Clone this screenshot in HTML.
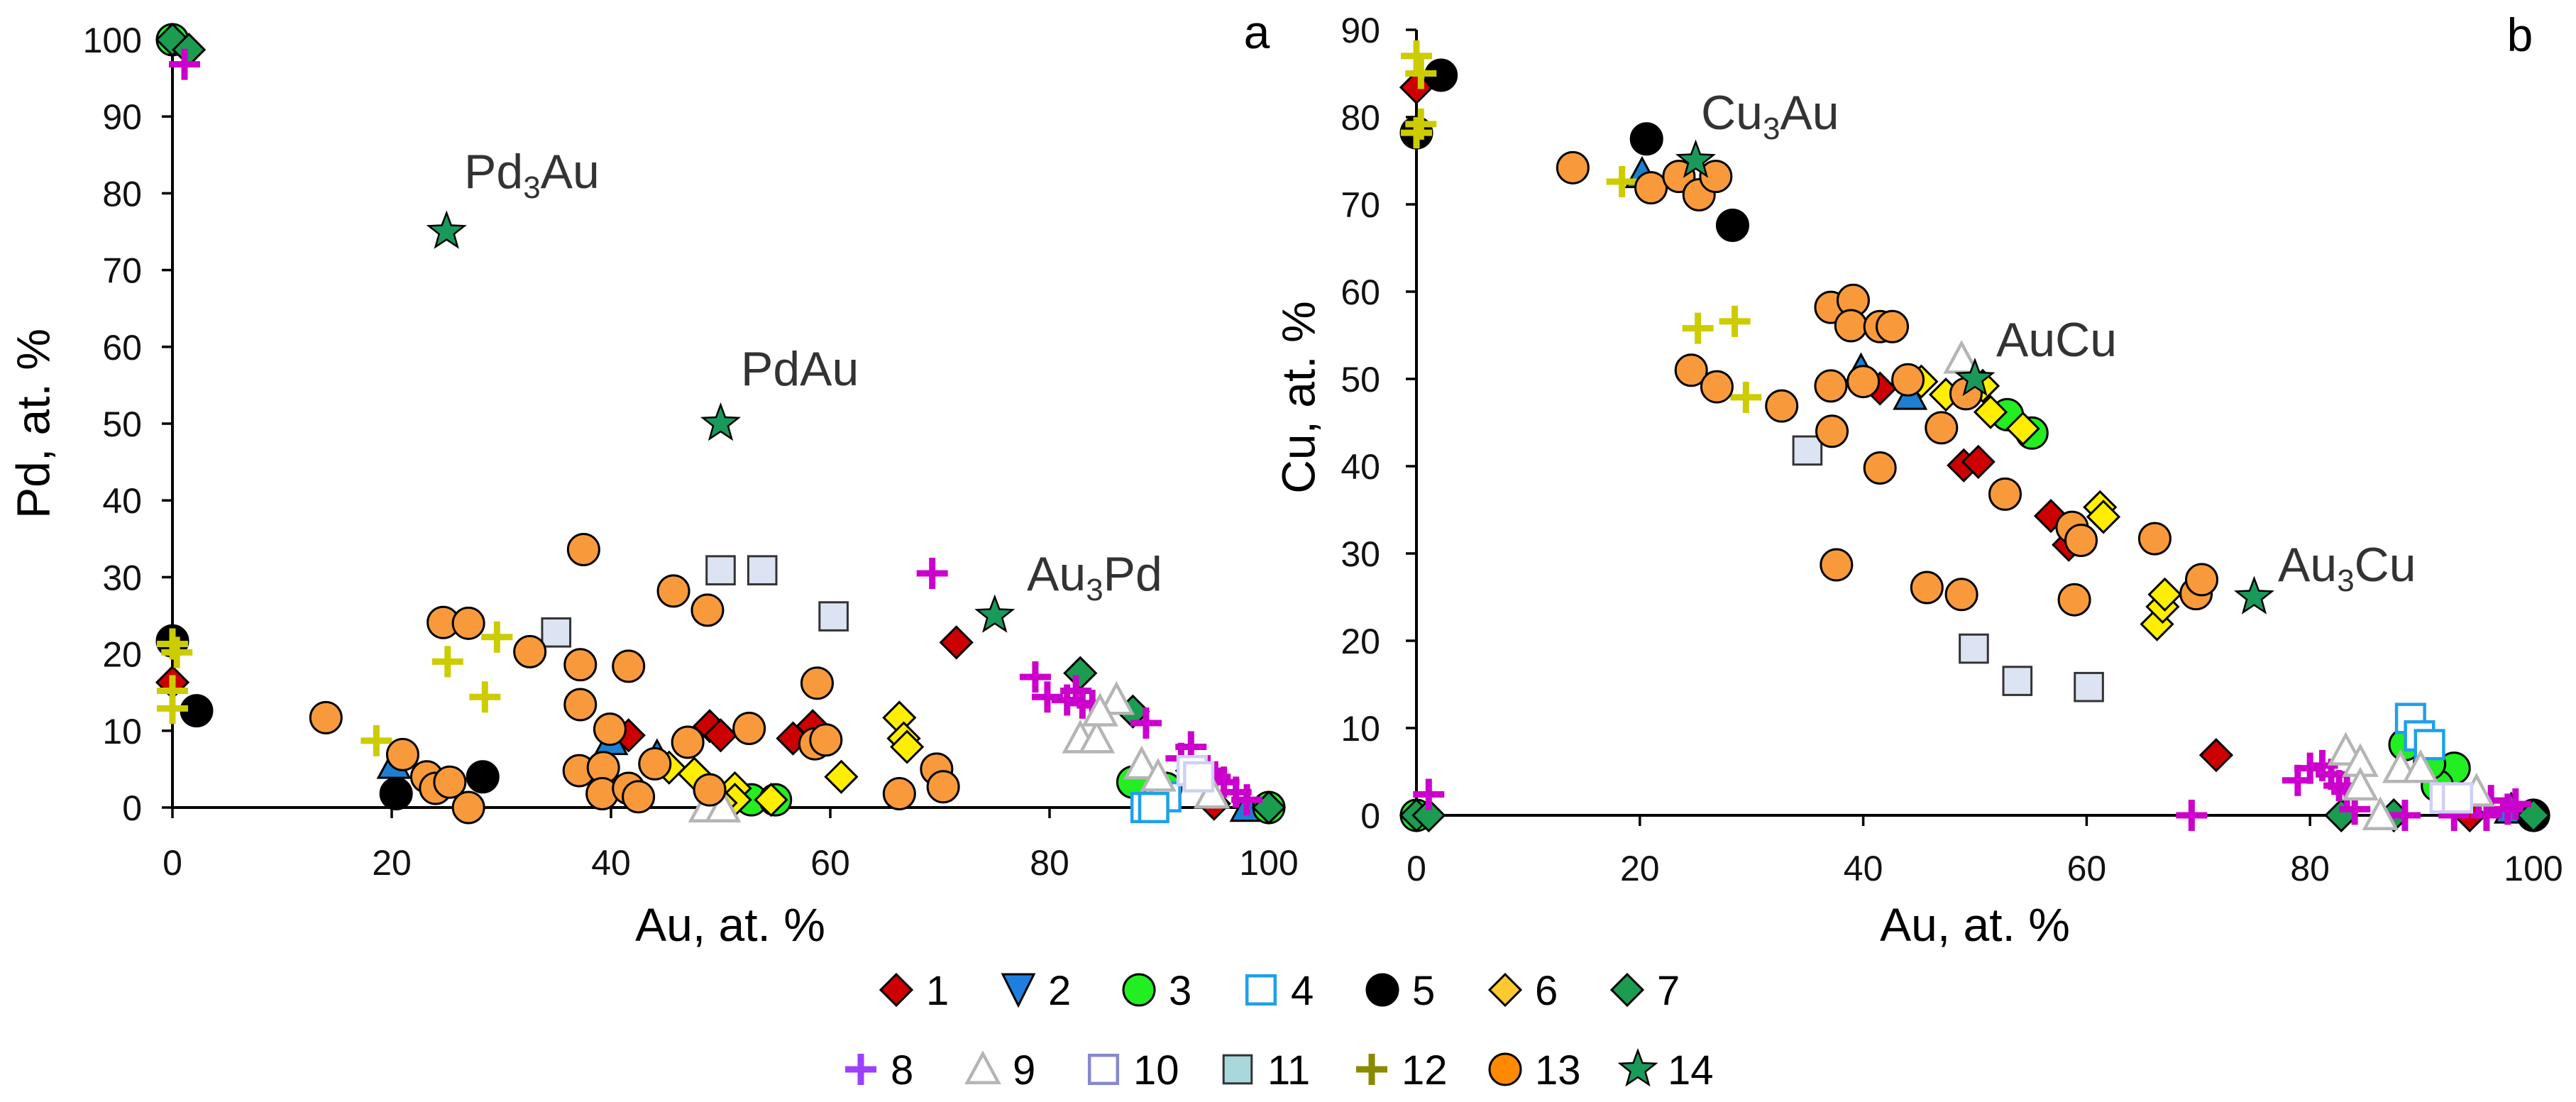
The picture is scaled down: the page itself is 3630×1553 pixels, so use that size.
<!DOCTYPE html>
<html><head><meta charset="utf-8"><style>
html,body{margin:0;padding:0;background:#fff;}
svg{display:block;font-family:"Liberation Sans",sans-serif;}
</style></head><body>
<svg id="chart" xmlns="http://www.w3.org/2000/svg" width="3630" height="1553" viewBox="0 0 3630 1553">
<g id="axesA"></g>
<g id="axesB"></g>
<g id="marks"></g>
<g id="legend"></g>
<text x="52" y="597" transform="rotate(-90 52 597)" text-anchor="middle" dominant-baseline="middle" font-size="66">Pd, at. %</text>
<text x="1835" y="560" transform="rotate(-90 1835 560)" text-anchor="middle" dominant-baseline="middle" font-size="66">Cu, at. %</text>
<text x="1029" y="1326" text-anchor="middle" font-size="66">Au, at. %</text>
<text x="2783" y="1326" text-anchor="middle" font-size="66">Au, at. %</text>
<text x="1771" y="68" text-anchor="middle" font-size="66">a</text>
<text x="3551" y="72" text-anchor="middle" font-size="66">b</text>
<text x="654" y="265" font-size="68" fill="#333">Pd<tspan font-size="44" dy="14">3</tspan><tspan dy="-14">Au</tspan></text>
<text x="1044" y="543" font-size="68" fill="#333">PdAu</text>
<text x="1447" y="832" font-size="68" fill="#333">Au<tspan font-size="44" dy="14">3</tspan><tspan dy="-14">Pd</tspan></text>
<text x="2397" y="182" font-size="68" fill="#333">Cu<tspan font-size="44" dy="14">3</tspan><tspan dy="-14">Au</tspan></text>
<text x="2813" y="502" font-size="68" fill="#333">AuCu</text>
<text x="3210" y="819" font-size="68" fill="#333">Au<tspan font-size="44" dy="14">3</tspan><tspan dy="-14">Cu</tspan></text>
</svg>
<script>
// ---------- data: panel a (Au vs Pd) ----------
const a1x=[0,71.5,49,50,56.6,58.4,41.6,95];
const a1y=[16.3,21.5,10.6,9.4,9,10.6,9.4,0.5];
const a2x=[20.2,40,44.2,98];
const a2y=[5.6,8.7,6.7,0];
const a3x=[52.8,55,87.6,90.6,100,0];
const a3y=[1,1,3.3,2.5,0,100];
const a4x=[88.8,90.6,89.5];
const a4y=[0,1.4,0];
const a5x=[0,2.2,20.4,28.3];
const a5y=[21.7,12.6,1.8,4];
const a6x=[66.3,66.7,67,61,45.3,47.6,51.3,51.3,54.6,50];
const a6y=[11.7,9,7.9,4,5.2,4.4,2.5,1,1,0.6];
const a7x=[0,1.5,82.8,87.6,100,93];
const a7y=[100,98.7,17.5,12.5,0,4.8];
const a8x=[1.1,69.3,78.7,79.8,81.6,83,83.9,88.8,92,94.4,95.9,97,98,92.9,95.1,82.4];
const a8y=[96.8,30.5,17,14.4,14,13.6,13.3,11,6.4,4.8,3.3,2,1,7.9,4,15.2];
const a9x=[82.8,84.3,86.1,84.6,88.4,89.9,94.8,48.7,50.2];
const a9y=[9,9,14,12.5,5.6,4,1.8,0,0];
const a10x=[93,93.6];
const a10y=[4.8,4];
const a11x=[35,50,53.8,60.3];
const a11y=[22.8,30.9,30.9,24.9];
const a12x=[0,0.4,0,0,18.6,25.1,28.5,29.6];
const a12y=[21.3,20.2,15.2,12.9,8.7,19,14.4,22.2];
const a13x=[14,21,23.2,24,25.3,24.7,27,27,32.6,37.5,37.2,37.2,41.6,39.9,37.1,39.3,39.2,41.6,42.5,44,45.7,48.8,47,49,52.6,58.8,58.6,59.6,66.3,69.7,70.3];
const a13y=[11.7,6.9,4,2.5,3.3,24.1,24,0,20.3,33.6,18.6,13.4,18.4,10.2,4.8,5.2,1.8,2.5,1.4,5.7,28.2,25.7,8.5,2.3,10.3,16.2,8.3,8.8,1.8,5,2.7];
const a14x=[25,50,75];
const a14y=[75,50,25];
// ---------- data: panel b (Au vs Cu) ----------
const b1x=[0,41.5,49,50.3,56.8,58.4,71.6,94.3];
const b1y=[83.4,48.9,40.1,40.5,34.3,31,6.9,0];
const b2x=[20.2,39.8,44.2,98];
const b2y=[73.5,51,48.1,0.7];
const b3x=[0,52.9,55.1,88.5,92.9,91.4,100,90.7];
const b3y=[0,45.9,43.8,8.1,5.4,3.4,0,5.9];
const b4x=[89,89.8,90.7];
const b4y=[11.1,9.1,8.1];
const b5x=[0,2.2,20.6,28.3,100];
const b5y=[78.2,84.8,77.5,67.6,0];
const b6x=[45.2,47.4,50.7,51.4,54.3,61.2,61.5,66.3,66.8,67];
const b6y=[49.7,48.2,49.2,46.2,44.3,35.3,34.2,21.9,23.9,25.3];
const b7x=[0,1.1,82.8,87.5,100];
const b7y=[0,0,0,0,0];
const b8x=[1.1,69.4,78.9,80,81.1,81.9,82.6,83.3,84,88.5,92.9,95.1,96.2,97.7,98.4,95.8];
const b8y=[2.4,0,4,5.4,5.7,4.7,3.4,2.7,0.7,0,0,1.7,1.7,0.7,1.3,0];
const b9x=[83.2,84.5,84.5,86.3,88.1,89.9,94.9,48.8];
const b9y=[7.4,6.1,3.4,0,5.4,5.4,2.7,52.3];
const b10x=[92.1,93.2];
const b10y=[2,2];
const b11x=[35,49.9,53.8,60.2];
const b11y=[41.8,19.1,15.4,14.7];
const b12x=[0,0.4,0.4,0,18.4,25.2,28.5,29.5];
const b12y=[87,85,79.2,78.2,72.6,55.8,56.6,47.9];
const b13x=[14,21,23.5,25.3,26.8,24.6,26.9,32.7,37.1,39.1,38.9,41.5,42.6,37.1,40,44,49.2,37.2,47,41.5,52.7,58.7,59.5,66.1,37.6,45.7,48.8,58.9,69.8,70.3];
const b13y=[74.2,71.9,73.2,71.1,73.2,51,49.1,46.9,58.2,59,56.1,56,56,49.2,49.7,49.9,48.3,44,44.4,39.8,36.8,33,31.5,31.7,28.7,26.1,25.3,24.7,25.4,27];
const b14x=[25,50,75];
const b14y=[75,50,25];
// ticks
const xTicks=[0,20,40,60,80,100];
const yTicksA=[0,10,20,30,40,50,60,70,80,90,100];
const yTicksB=[0,10,20,30,40,50,60,70,80,90];
const legendLabels=["1","2","3","4","5","6","7","8","9","10","11","12","13","14"];

const NS="http://www.w3.org/2000/svg";
function xA(v){return 243+v*15.45;}
function yA(v){return 1138-v*10.82;}
function xB(v){return 1996+v*15.74;}
function yB(v){return 1149-v*12.3;}
function mk(tag,attrs,parent){const e=document.createElementNS(NS,tag);for(const k in attrs)e.setAttribute(k,attrs[k]);parent.appendChild(e);return e;}

function axes(g,xf,yf,yt,ymax,labelEnd,xlabY){
  for(const t of yt){
    const tk=mk('line',{x1:xf(0)-15,x2:xf(0),y1:yf(t),y2:yf(t),stroke:'#000','stroke-width':3.5},g);
    
    
    const tx=mk('text',{x:labelEnd,y:yf(t)+18,'text-anchor':'end','font-size':50,fill:'#111'},g);
    tx.textContent=t;
    
    
  }
  for(const t of xTicks){
    const tk=mk('line',{x1:xf(t),x2:xf(t),y1:yf(0),y2:yf(0)+15,stroke:'#000','stroke-width':3.5},g);
    
    
    const tx=mk('text',{x:xf(t),y:xlabY,'text-anchor':'middle','font-size':50,fill:'#111'},g);
    tx.textContent=t;
    
    
  }
  const ya=mk('line',{x1:xf(0),x2:xf(0),y1:yf(ymax),y2:yf(0),stroke:'#000','stroke-width':4},g);
  
  
  const xa=mk('line',{x1:xf(0),x2:xf(100),y1:yf(0),y2:yf(0),stroke:'#000','stroke-width':4},g);
  
  
}
axes(document.getElementById('axesA'),xA,yA,yTicksA,100,200,1233);
axes(document.getElementById('axesB'),xB,yB,yTicksB,90,1945,1241);

const R=22;
function star(cx,cy,r){let p=[];for(let i=0;i<10;i++){const rr=i%2?r*0.42:r;const a=-Math.PI/2+i*Math.PI/5;p.push((cx+rr*Math.cos(a)).toFixed(1)+','+(cy+rr*Math.sin(a)).toFixed(1));}return p.join(' ');}
function drawMarker(type,cx,cy,parent,legendMode){
  const s=R;let e;
  switch(type){
    case 1: e=mk('polygon',{points:`${cx},${cy-s} ${cx+s},${cy} ${cx},${cy+s} ${cx-s},${cy}`,fill:'#cc0000',stroke:'#000','stroke-width':3},parent);break;
    case 2: e=legendMode?mk('polygon',{points:`${cx-s},${cy-s} ${cx+s},${cy-s} ${cx},${cy+s}`,fill:'#1e7fe0',stroke:'#000','stroke-width':3},parent)
                       :mk('polygon',{points:`${cx-s},${cy+s*0.85} ${cx+s},${cy+s*0.85} ${cx},${cy-s}`,fill:'#1e7fd0',stroke:'#000','stroke-width':3},parent);break;
    case 3: e=mk('circle',{cx:cx,cy:cy,r:s,fill:'#22ee22',stroke:'#000','stroke-width':3},parent);break;
    case 4: e=mk('rect',{x:cx-s*0.9,y:cy-s*0.9,width:s*1.8,height:s*1.8,fill:'#fff',stroke:'#1ea0ea','stroke-width':4.5},parent);break;
    case 5: e=mk('circle',{cx:cx,cy:cy,r:s,fill:'#000',stroke:'#000','stroke-width':3},parent);break;
    case 6: e=mk('polygon',{points:`${cx},${cy-s} ${cx+s},${cy} ${cx},${cy+s} ${cx-s},${cy}`,fill:legendMode?'#ffc830':'#ffee00',stroke:'#000','stroke-width':3},parent);break;
    case 7: e=mk('polygon',{points:`${cx},${cy-s} ${cx+s},${cy} ${cx},${cy+s} ${cx-s},${cy}`,fill:'#1c9c50',stroke:'#000','stroke-width':3},parent);break;
    case 8: { const c=legendMode?'#9b40ff':'#cc00cc'; e=mk('path',{d:`M${cx-s},${cy}H${cx+s}M${cx},${cy-s}V${cy+s}`,stroke:c,'stroke-width':9,fill:'none'},parent);break;}
    case 9: e=mk('polygon',{points:`${cx-s},${cy+s*0.85} ${cx+s},${cy+s*0.85} ${cx},${cy-s}`,fill:'#fff',stroke:'#b5b5b5','stroke-width':4.5},parent);break;
    case 10: e=mk('rect',{x:cx-s*0.9,y:cy-s*0.9,width:s*1.8,height:s*1.8,fill:'#fff',stroke:legendMode?'#8888cc':'#cfd0f5','stroke-width':4.5},parent);break;
    case 11: e=mk('rect',{x:cx-s*0.9,y:cy-s*0.9,width:s*1.8,height:s*1.8,fill:legendMode?'#a8d8dc':'#dce3f2',stroke:'#333','stroke-width':3},parent);break;
    case 12: { const c=legendMode?'#8a8a00':'#cccc00'; e=mk('path',{d:`M${cx-s},${cy}H${cx+s}M${cx},${cy-s}V${cy+s}`,stroke:c,'stroke-width':9,fill:'none'},parent);break;}
    case 13: e=mk('circle',{cx:cx,cy:cy,r:s,fill:legendMode?'#ff8a00':'#f89a3c',stroke:'#000','stroke-width':3},parent);break;
    case 14: e=mk('polygon',{points:star(cx,cy,s*1.2),fill:'#1a9a5a',stroke:'#000','stroke-width':2.5},parent);break;
  }
  return e;
}
const marks=document.getElementById('marks');
const seriesA=[[a1x,a1y],[a2x,a2y],[a3x,a3y],[a4x,a4y],[a5x,a5y],[a6x,a6y],[a7x,a7y],[a8x,a8y],[a9x,a9y],[a10x,a10y],[a11x,a11y],[a12x,a12y],[a13x,a13y],[a14x,a14y]];
const seriesB=[[b1x,b1y],[b2x,b2y],[b3x,b3y],[b4x,b4y],[b5x,b5y],[b6x,b6y],[b7x,b7y],[b8x,b8y],[b9x,b9y],[b10x,b10y],[b11x,b11y],[b12x,b12y],[b13x,b13y],[b14x,b14y]];
seriesA.forEach((s,i)=>{s[0].forEach((v,j)=>{
  const e=drawMarker(i+1,xA(v),yA(s[1][j]),marks,false);
  
  
});});
seriesB.forEach((s,i)=>{s[0].forEach((v,j)=>{
  const e=drawMarker(i+1,xB(v),yB(s[1][j]),marks,false);
  
  
});});
// legend
const lg=document.getElementById('legend');
const row1X=[1263,1435,1605,1777,1948,2121,2293];
const row2X=[1213,1385,1555,1744,1933,2121,2308];
legendLabels.forEach((lab,i)=>{
  const row=i<7?0:1;const mx=row?row2X[i-7]:row1X[i];const my=row?1507:1395;
  const g=mk('g',{},lg);
  
  
  drawMarker(i+1,mx,my,g,true);
  const t=mk('text',{x:mx+42,y:my+21,'font-size':58,fill:'#000'},g);
  t.textContent=lab;
});
</script>
</body></html>
